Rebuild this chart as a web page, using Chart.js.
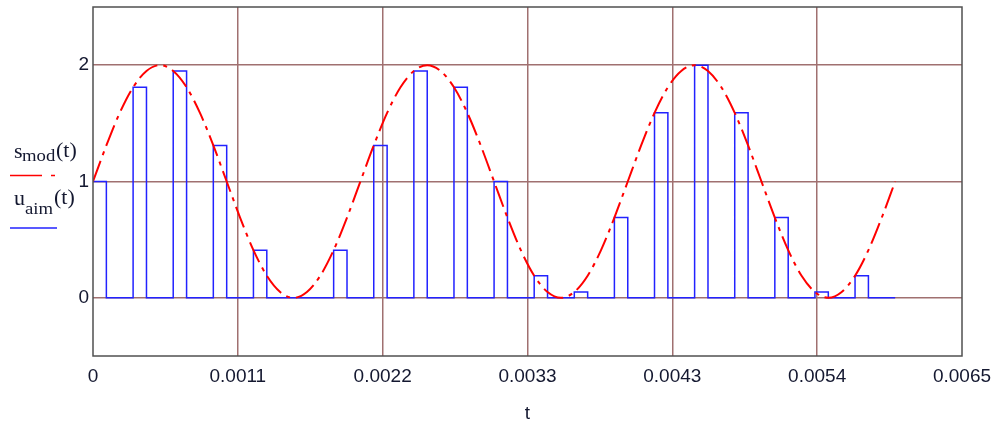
<!DOCTYPE html>
<html><head><meta charset="utf-8">
<script src="https://cdn.jsdelivr.net/npm/chart.js@4/dist/chart.umd.min.js"></script>
<style>html,body{margin:0;padding:0;background:#fff;}canvas{display:block;}</style>
</head><body>
<canvas id="c" width="1003" height="423"></canvas>
<script>
// ---- data ----
const sineTimes = [0,0.0001,0.0002,0.0003,0.0004,0.0005,0.0006,0.0007,0.0008,0.0009,
  0.0010,0.0011,0.0012,0.0013,0.0014,0.0015,0.0016,0.0017,0.0018,0.0019,
  0.0020,0.0021,0.0022,0.0023,0.0024,0.0025,0.0026,0.0027,0.0028,0.0029,
  0.0030,0.0031,0.0032,0.0033,0.0034,0.0035,0.0036,0.0037,0.0038,0.0039,
  0.0040,0.0041,0.0042,0.0043,0.0044,0.0045,0.0046,0.0047,0.0048,0.0049,
  0.0050,0.0051,0.0052,0.0053,0.0054,0.0055,0.0056,0.0057,0.0058,0.0059,0.0060];
const sineValues = [1.00,1.31,1.59,1.81,1.95,2.00,1.95,1.81,1.59,1.31,
  1.00,0.69,0.41,0.19,0.05,0.00,0.05,0.19,0.41,0.69,
  1.00,1.31,1.59,1.81,1.95,2.00,1.95,1.81,1.59,1.31,
  1.00,0.69,0.41,0.19,0.05,0.00,0.05,0.19,0.41,0.69,
  1.00,1.31,1.59,1.81,1.95,2.00,1.95,1.81,1.59,1.31,
  1.00,0.69,0.41,0.19,0.05,0.00,0.05,0.19,0.41,0.69,1.00];
const pulseTimes = [0,0.0003,0.0006,0.0009,0.0012,0.0015,0.0018,0.0021,0.0024,0.0027,
  0.0030,0.0033,0.0036,0.0039,0.0042,0.0045,0.0048,0.0051,0.0054,0.0057];
const pulseHeights = [1.00,1.81,1.95,1.31,0.41,0.00,0.41,1.31,1.95,1.81,
  1.00,0.19,0.05,0.69,1.59,2.00,1.59,0.69,0.05,0.19];
const pulseWidth = 0.0001;
const pulseEnd = 0.006;
const xTickValues = [0,0.00108333,0.00216667,0.00325,0.00433333,0.00541667,0.0065];
const xTickLabels = ['0','0.0011','0.0022','0.0033','0.0043','0.0054','0.0065'];
const yTickValues = [0,1,2];
const yTickLabels = ['0','1','2'];
const seriesNames = [['s','mod','(t)'],['u','aim','(t)']];
const xTitle = 't';

// ---- build library data ----
const sineData = sineTimes.map((t,i)=>({x:t,y:sineValues[i]}));
const pulseData = [];
pulseTimes.forEach((t,i)=>{ pulseData.push({x:t,y:pulseHeights[i]}); pulseData.push({x:t+pulseWidth,y:0}); });
pulseData.push({x:pulseEnd,y:0});

const RED='#ff0000', BLUE='#2222ff', GRID='rgb(160,112,112)', FRAME='#505050', TXT='#141830';
const tickFont={family:'"Liberation Sans", Arial, sans-serif',size:19};

const framePlugin={
  id:'frame',
  afterDatasetsDraw(chart){
    const {ctx,chartArea:a}=chart;
    ctx.save();
    ctx.strokeStyle=FRAME; ctx.lineWidth=1.5;
    ctx.strokeRect(a.left,a.top,a.right-a.left,a.bottom-a.top);
    const serif='"Liberation Serif","Times New Roman",serif';
    function piece(txt,x,y,size){
      ctx.save(); ctx.translate(x,y); ctx.scale(1.1,1);
      ctx.font=size+'px '+serif; ctx.fillStyle=TXT; ctx.textBaseline='alphabetic';
      ctx.fillText(txt,0,0); ctx.restore();
    }
    const s=seriesNames[0], u=seriesNames[1];
    piece(s[0],14,158,20); piece(s[1],22,161,17); piece(s[2],56,157,20);
    piece(u[0],14,205,20); piece(u[1],25,214,17); piece(u[2],54,204,20);
    ctx.lineWidth=1.5;
    ctx.strokeStyle=RED;
    ctx.beginPath(); ctx.moveTo(10,175.5); ctx.lineTo(42,175.5); ctx.moveTo(51,175.5); ctx.lineTo(55,175.5); ctx.stroke();
    ctx.strokeStyle=BLUE;
    ctx.beginPath(); ctx.moveTo(10,228); ctx.lineTo(57,228); ctx.stroke();
    ctx.restore();
  }
};

new Chart(document.getElementById('c'),{
  type:'line',
  data:{datasets:[
    {label:'s_mod(t)',data:sineData,borderColor:RED,borderWidth:2,borderDash:[22,6,4,6],
     pointRadius:0,cubicInterpolationMode:'monotone',fill:false,order:0},
    {label:'u_aim(t)',data:pulseData,borderColor:BLUE,borderWidth:1.5,stepped:'before',
     pointRadius:0,fill:false,order:1}
  ]},
  options:{
    responsive:false,animation:false,
    layout:{padding:{top:7,right:41,left:0,bottom:0}},
    plugins:{legend:{display:false},tooltip:{enabled:false}},
    scales:{
      x:{type:'linear',min:0,max:0.0065,
        afterBuildTicks:sc=>{sc.ticks=xTickValues.map(v=>({value:v}));},
        afterFit:sc=>{sc.height=67;sc.paddingLeft=0;sc.paddingRight=0;},
        ticks:{callback:(v,i)=>xTickLabels[i],font:tickFont,color:TXT,padding:9,maxRotation:0,autoSkip:false},
        grid:{color:c=>(c.index===0||c.index===xTickValues.length-1)?'rgba(0,0,0,0)':GRID,lineWidth:1.5,drawTicks:false},
        border:{display:false},
        title:{display:true,text:xTitle,font:{family:tickFont.family,size:19,lineHeight:1.0},color:TXT,padding:{top:0,bottom:0}}
      },
      y:{type:'linear',min:-0.5,max:2.5,
        afterBuildTicks:sc=>{sc.ticks=yTickValues.map(v=>({value:v}));},
        afterFit:sc=>{sc.width=93;sc.paddingTop=0;sc.paddingBottom=0;},
        ticks:{callback:(v,i)=>yTickLabels[i],font:tickFont,color:TXT,padding:4},
        grid:{color:GRID,lineWidth:1.5,drawTicks:false},
        border:{display:false}
      }
    }
  },
  plugins:[framePlugin]
});
</script>
</body></html>
